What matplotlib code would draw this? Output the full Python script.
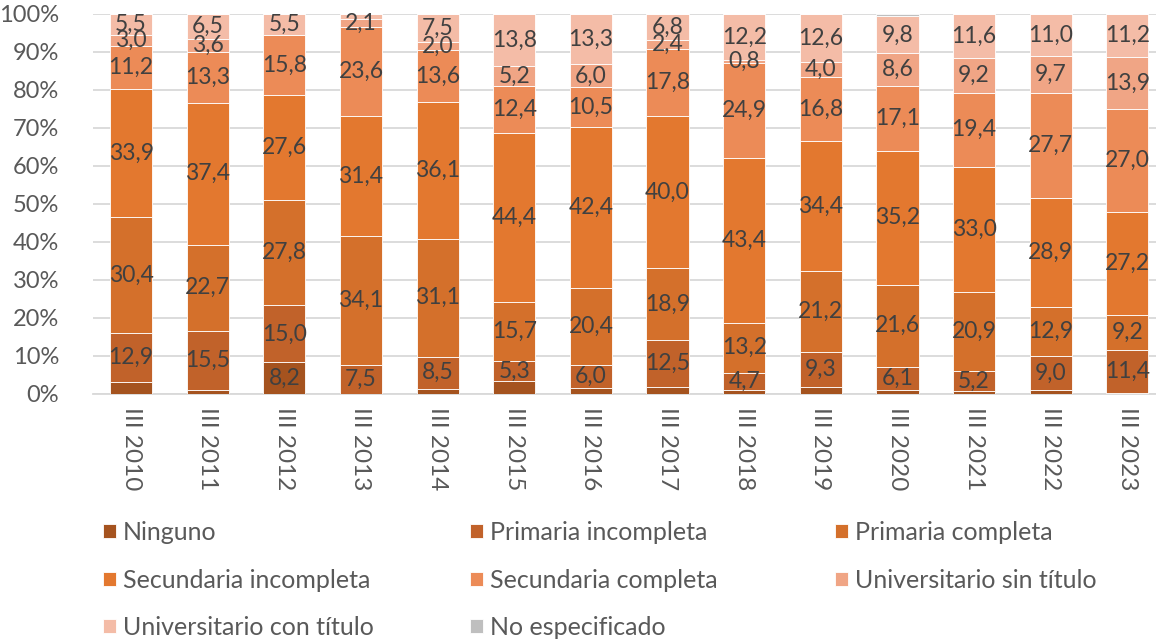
import numpy as np
import matplotlib
matplotlib.use("Agg")
import matplotlib.pyplot as plt

plt.rcParams['font.family'] = ['Lato', 'DejaVu Sans']

years = ["III 2010", "III 2011", "III 2012", "III 2013", "III 2014", "III 2015", "III 2016",
         "III 2017", "III 2018", "III 2019", "III 2020", "III 2021", "III 2022", "III 2023"]

ninguno = [3.1, 1.0, 8.2, 0.0, 1.2, 3.2, 1.4, 1.6, 0.8, 1.7, 1.0, 0.7, 0.8, 0.1]
prim_inc = [12.9, 15.5, 15.0, 7.5, 8.5, 5.3, 6.0, 12.5, 4.7, 9.3, 6.1, 5.2, 9.0, 11.4]
prim_comp = [30.4, 22.7, 27.8, 34.1, 31.1, 15.7, 20.4, 18.9, 13.2, 21.2, 21.6, 20.9, 12.9, 9.2]
sec_inc = [33.9, 37.4, 27.6, 31.4, 36.1, 44.4, 42.4, 40.0, 43.4, 34.4, 35.2, 33.0, 28.9, 27.2]
sec_comp = [11.2, 13.3, 15.8, 23.6, 13.6, 12.4, 10.5, 17.8, 24.9, 16.8, 17.1, 19.4, 27.7, 27.0]
univ_sin = [3.0, 3.6, 0.0, 2.1, 2.0, 5.2, 6.0, 2.4, 0.8, 4.0, 8.6, 9.2, 9.7, 13.9]
univ_con = [5.5, 6.5, 5.5, 1.3, 7.5, 13.8, 13.3, 6.8, 12.2, 12.6, 9.8, 11.6, 11.0, 11.2]
no_esp = [0, 0, 0, 0, 0, 0, 0, 0, 0, 0, 0.6, 0, 0, 0]

names = ["Ninguno", "Primaria incompleta", "Primaria completa", "Secundaria incompleta",
         "Secundaria completa", "Universitario sin título", "Universitario con título",
         "No especificado"]
series = [ninguno, prim_inc, prim_comp, sec_inc, sec_comp, univ_sin, univ_con, no_esp]
colors = ["#A5531F", "#C1622A", "#D4702B", "#E3782F", "#EC8B57", "#F0A585", "#F4BCA7", "#BFBFBF"]
# smallest value that still gets a label, per series (the original hides some)
min_label = [5, 0.5, 0.5, 0.5, 0.5, 0.5, 2, 999]

data = np.array(series, dtype=float)
totals = data.sum(axis=0)
shares = data / totals * 100

fig = plt.figure(figsize=(11.56, 6.41), dpi=100)
ax = fig.add_axes([92.7 / 1156, 1 - 393.5 / 641, 1073 / 1156, 379.5 / 641])

x = np.arange(len(years))
bottom = np.zeros(len(years))
handles = []
for i, (name, col) in enumerate(zip(names, colors)):
    b = ax.bar(x, shares[i], 0.55, bottom=bottom, color=col, edgecolor="white",
               linewidth=0.6, label=name, zorder=3)
    handles.append(b)
    for j in range(len(years)):
        v = data[i, j]
        if v >= min_label[i]:
            ax.text(x[j], bottom[j] + shares[i, j] / 2, f"{v:.1f}".replace(".", ","),
                    ha="center", va="center", fontsize=16.5, color="#404040", zorder=4)
    bottom += shares[i]

ax.set_xlim(-0.5, len(years) - 0.5)
ax.set_ylim(0, 100)
ax.set_yticks(np.arange(0, 101, 10))
ax.set_yticklabels([f"{t}%" for t in range(0, 101, 10)])
ax.set_xticks(x)
ax.set_xticklabels(years, rotation=270)
ax.tick_params(axis="y", length=0, pad=24, labelsize=17, labelcolor="#595959")
ax.tick_params(axis="x", length=0, pad=10, labelsize=17.5, labelcolor="#595959")
ax.grid(axis="y", color="#D9D9D9", linewidth=1.3, zorder=0)
for s in ["top", "right", "left"]:
    ax.spines[s].set_visible(False)
ax.spines["bottom"].set_color("#D9D9D9")
ax.spines["bottom"].set_linewidth(1.3)

# legend: three columns placed like the original (row-major order)
columns = [[0, 3, 6], [1, 4, 7], [2, 5]]
col_x = [103, 470, 835]
for idx, cx in zip(columns, col_x):
    leg = fig.legend([handles[k] for k in idx], [names[k] for k in idx],
                     loc="upper left", bbox_to_anchor=(cx / 1156, 1 - 521 / 641),
                     frameon=False, fontsize=18, handlelength=0.5, handleheight=0.5,
                     handletextpad=0.3, labelspacing=0.98, borderpad=0,
                     borderaxespad=0)
    for t in leg.get_texts():
        t.set_color("#595959")

fig.savefig("out.png", dpi=100)
